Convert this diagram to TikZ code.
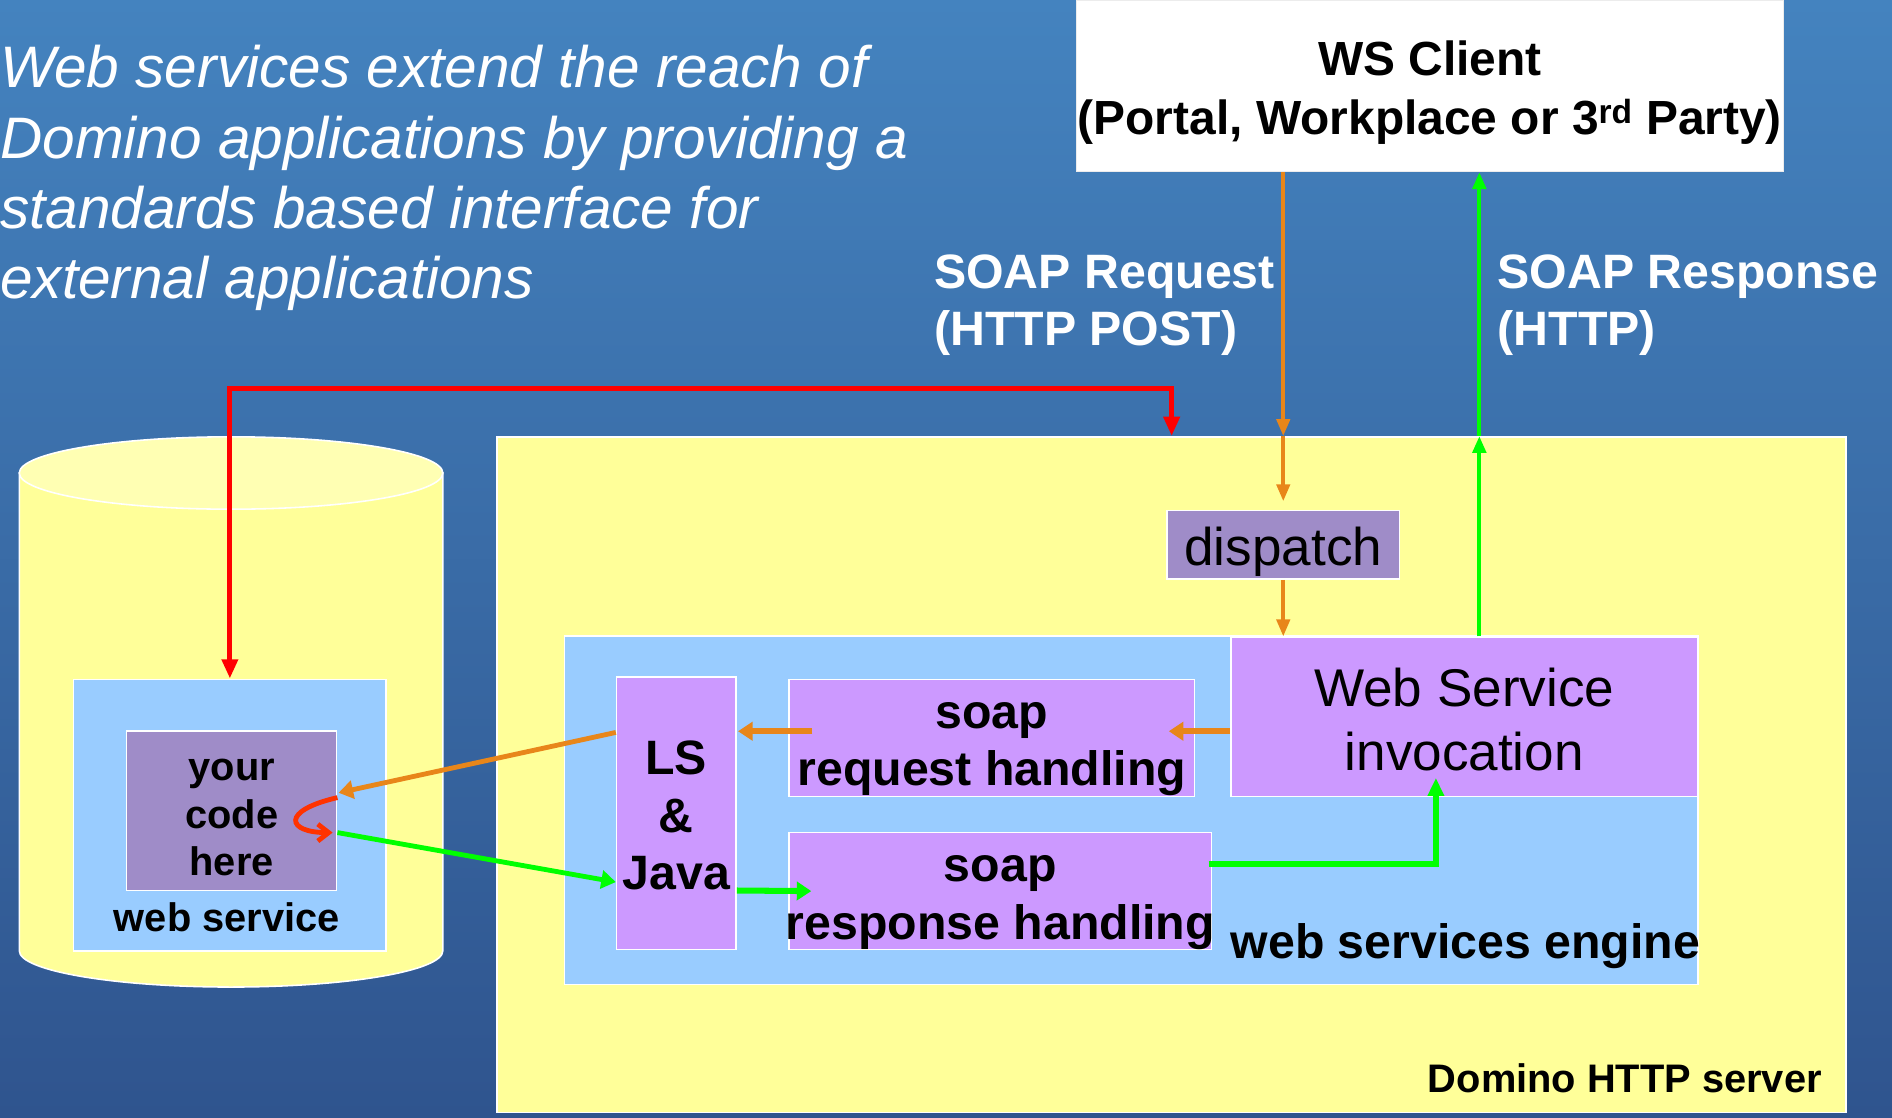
\documentclass[tikz,border=0pt]{standalone}
\usepackage{fontspec}
\setmainfont{Liberation Sans}
\usetikzlibrary{arrows.meta,calc}
\definecolor{bgtop}{HTML}{4483BF}
\definecolor{bgbot}{HTML}{2F548E}
\definecolor{yel}{HTML}{FFFF99}
\definecolor{yeltop}{HTML}{FFFFB3}
\definecolor{lblue}{HTML}{99CCFF}
\definecolor{lpurp}{HTML}{CC99FF}
\definecolor{gpurp}{HTML}{9F8CC8}
\definecolor{orng}{HTML}{E8861A}
\definecolor{grn}{HTML}{00FF00}
\definecolor{rd}{HTML}{FF0000}
\definecolor{rdo}{HTML}{FF3300}
\begin{document}
\begin{tikzpicture}[x=1pt,y=-1pt,
  box/.style={draw=white, line width=1.3pt, inner sep=0pt},
  bold40/.style={font=\fontsize{40}{47.5}\selectfont\bfseries},
  bold33/.style={font=\fontsize{33}{39}\selectfont\bfseries},
  reg44/.style={font=\fontsize{44}{53}\selectfont},
  lbl/.style={inner sep=0pt, align=center},
  lbll/.style={inner sep=0pt, align=left},
  otip/.style={-{Triangle[width=11pt,length=14pt]}},
  itip/.style={-{Triangle[width=15pt,length=12pt]}},
  overt/.style={draw=orng, line width=3pt, otip},
  gvert/.style={draw=grn, line width=3.5pt, otip},
  ohor/.style={draw=orng, line width=5pt, itip},
  ghor/.style={draw=grn, line width=5pt, itip},
]
\useasboundingbox (0,0) rectangle (1568,926);
\shade[top color=bgtop, bottom color=bgbot] (0,0) rectangle (1568,926);

% intro text
\node[lbll, anchor=north west, text=white, font=\fontsize{48.5}{58.3}\selectfont\itshape] (intro) at (0,37.5)
  {Web services extend the reach of\\Domino applications by providing a\\standards based interface for\\external applications};

% WS client
\node[box, fill=white, draw=white!85!gray, minimum width=586pt, minimum height=142pt] (wsc) at (1185,71) {};
\node[lbl, font=\fontsize{39.7}{49}\selectfont\bfseries] (wsct) at ($(wsc)+(0,5.5)$)
  {WS Client\\(Portal, Workplace or 3\textsuperscript{rd} Party)};

\node[lbll, bold40, text=white, anchor=west] (reqlbl) at (774,253) {SOAP Request\\(HTTP POST)};
\node[lbll, bold40, text=white, anchor=west] (resplbl) at (1241,253) {SOAP Response\\(HTTP)};

% Domino server
\node[box, fill=yel, minimum width=1118pt, minimum height=560pt] (domino) at (971,642) {};
\node[lbl, bold33, anchor=east] (domlbl) at (1510,893.5) {Domino HTTP server};

% cylinder
\draw[white, line width=1.3pt, fill=yel] (16,392) -- (16,788)
   arc[start angle=180, delta angle=-180, x radius=175.5, y radius=30] -- (367,392) -- cycle;
\draw[white, line width=1.3pt, fill=yeltop] (191.5,392) ellipse [x radius=175.5, y radius=30];

\node[box, fill=lblue, minimum width=259pt, minimum height=225pt] (ws) at (190.5,675.5) {};
\node[lbl, bold33] (wslbl) at (188,760) {web service};
\node[box, fill=gpurp, minimum width=174pt, minimum height=132pt] (code) at (192,672) {};
\node[lbl, bold33] (codet) at ($(code)+(0,5.5)$) {your\\code\\here};

% engine
\node[box, fill=lblue, minimum width=939pt, minimum height=289pt] (engine) at (937.5,671.5) {};
\node[lbl, bold40] (englbl) at (1214.5,784) {web services engine};
\node[box, fill=lpurp, minimum width=387pt, minimum height=132pt] (wsi) at (1213.5,594) {};
\node[lbl, reg44] (wsit) at ($(wsi)+(0,2)$) {Web Service\\invocation};
\node[box, fill=gpurp, minimum width=193pt, minimum height=57pt] (dispatch) at (1063.5,451.5) {};
\node[lbl, reg44] (dispt) at ($(dispatch)+(0,6)$) {dispatch};
\node[box, fill=lpurp, minimum width=99pt, minimum height=226pt] (lsj) at (560.5,674) {};
\node[lbl, bold40] (lsjt) at ($(lsj)+(0,2)$) {LS\\\&\\Java};
\node[box, fill=lpurp, minimum width=336pt, minimum height=97pt] (sreq) at (822,611.5) {};
\node[lbl, bold40] (sreqt) at ($(sreq)+(0,9.5)$) {soap\\request handling};
\node[box, fill=lpurp, minimum width=350pt, minimum height=97pt] (sresp) at (829,738.5) {};
\node[lbl, bold40] (srespt) at ($(sresp)+(0,9.5)$) {soap\\response handling};

% helper coordinates
\coordinate (gx) at (1226,0);
\coordinate (redtop) at (0,322);

% orange request path
\draw[overt] (wsc.south -| dispatch.north) -- (domino.north -| dispatch.north);
\draw[overt] (domino.north -| dispatch.north) -- ($(dispatch.north)+(0,-7)$);
\draw[overt] (dispatch.south) -- (dispatch.south |- wsi.north);

% green response path
\draw[gvert] (wsi.north -| gx) -- (domino.north -| gx);
\draw[gvert] (domino.north -| gx) -- (wsc.south -| gx);

% red deploy
\draw[rd, line width=4pt, {Triangle[width=13pt,length=16pt]}-{Triangle[width=13pt,length=16pt]}]
  (domino.north) -- (domino.north |- redtop) -- (ws.north |- redtop) -- (ws.north);

% inner orange
\draw[ohor] ($(wsi.west)+(0,12)$) -- ($(sreq.east)+(-22,-5.5)$);
\draw[ohor] ($(sreq.west)+(20,-5.5)$) -- ($(lsj.east)+(1,-68)$);
\draw[draw=orng, line width=4pt, itip] ($(lsj.west)+(0,-67)$) -- ($(code.east)+(1,-15)$);

% red loop
\draw[rdo, line width=4pt, -{Straight Barb[width=14pt,length=9pt]}]
  ($(code.east)+(0,-11)$) .. controls (232,672) and (238,690) .. ($(code.east)+(-4,18)$);

% inner green
\draw[draw=grn, line width=4pt, itip] ($(code.east)+(0,18)$) -- ($(lsj.west)+(0,57)$);
\draw[ghor] ($(lsj.east)+(0,64)$) -- ($(sresp.west)+(19,0)$);
\draw[ghor, -{Triangle[width=13pt,length=15pt]}] ($(sresp.east)+(-3,-22.5)$) -| ($(wsi.south)+(-23.5,-16)$);
\end{tikzpicture}
\end{document}
